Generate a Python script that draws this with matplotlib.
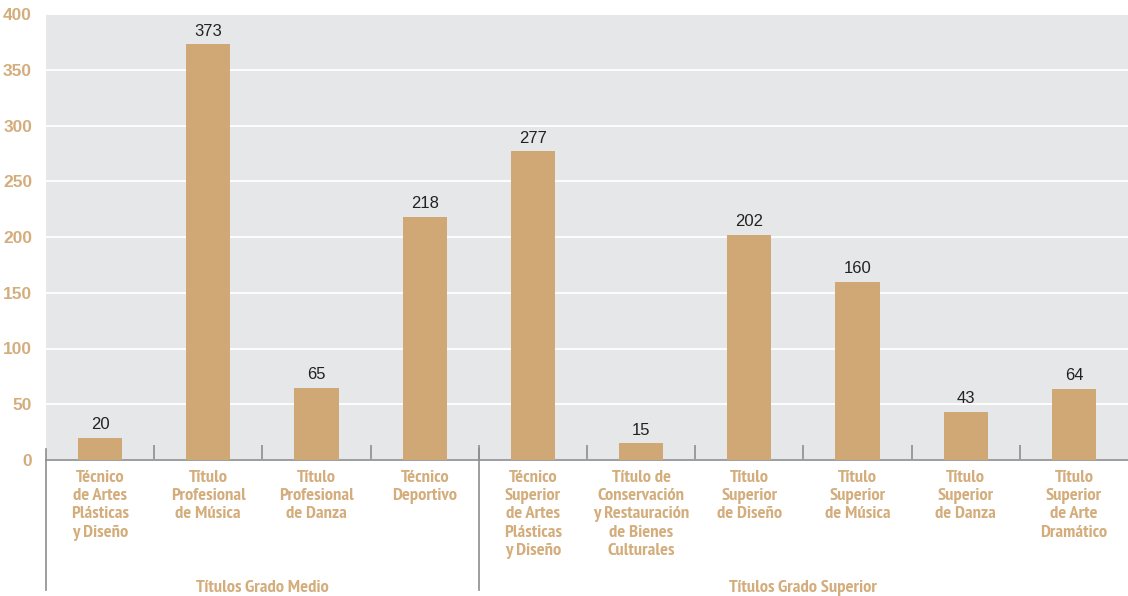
import numpy as np
import matplotlib.pyplot as plt
from matplotlib import font_manager

# pick a narrow bold face if the sandbox has one
bold_narrow = [f.name for f in font_manager.fontManager.ttflist
               if 'Narrow' in f.name and f.weight in (700, 'bold')]
head_font = bold_narrow[0] if bold_narrow else 'Liberation Sans'
plt.rcParams['font.family'] = ['Liberation Sans', 'DejaVu Sans']

# data
categories = ['Técnico\nde Artes\nPlásticas\ny Diseño',
              'Título\nProfesional\nde Música',
              'Título\nProfesional\nde Danza',
              'Técnico\nDeportivo',
              'Técnico\nSuperior\nde Artes\nPlásticas\ny Diseño',
              'Título de\nConservación\ny Restauración\nde Bienes\nCulturales',
              'Título\nSuperior\nde Diseño',
              'Título\nSuperior\nde Música',
              'Título\nSuperior\nde Danza',
              'Título\nSuperior\nde Arte\nDramático']
values = [20, 373, 65, 218, 277, 15, 202, 160, 43, 64]
groups = ['Títulos Grado Medio', 'Títulos Grado Superior']
group_sizes = [4, 6]

tan = '#cfa876'
label_col = '#d4ad7c'
bg = '#e6e7e9'
line_col = '#8c8d8f'

fig = plt.figure(figsize=(11.28, 5.96), dpi=100)
ax = fig.add_axes([46 / 1128, 1 - 460 / 596, 1 - 46 / 1128, 446 / 596])
ax.set_facecolor(bg)

x = np.arange(len(values))
ax.bar(x, values, width=0.41, color=tan, zorder=3)
for xi, v in zip(x, values):
    ax.text(xi, v + 5, str(v), ha='center', va='bottom', fontsize=12,
            color='#222222', zorder=4)

ax.set_xlim(-0.5, len(values) - 0.5)
ax.set_ylim(0, 400)
ax.set_yticks(np.arange(0, 401, 50))
ax.yaxis.grid(True, color='white', linewidth=1.3, zorder=0)
ax.set_axisbelow(True)
for s in ['top', 'right', 'left']:
    ax.spines[s].set_visible(False)
ax.spines['bottom'].set_color(line_col)
ax.spines['bottom'].set_linewidth(1.2)

ax.tick_params(axis='y', length=0, pad=10, labelsize=12.5, labelcolor=label_col)
for t in ax.get_yticklabels():
    t.set_fontweight('bold')

# boundary ticks
ax.set_xticks(x[:-1] + 0.5)
ax.set_xticklabels([])
ax.tick_params(axis='x', direction='in', length=11, color=line_col, width=1.2)

# category labels
for xi, c in zip(x, categories):
    ax.text(xi, -9, c, ha='center', va='top', fontsize=13.3, fontweight='bold',
            color=label_col, linespacing=1.18, family=[head_font, 'DejaVu Sans'])

# group separators and labels
start = 0
bounds = [-0.5]
for g, n in zip(groups, group_sizes):
    ax.text(start + (n - 1) / 2, -114.5, g, ha='center', va='center', fontsize=13.3,
            fontweight='bold', color=label_col, family=[head_font, 'DejaVu Sans'])
    start += n
    bounds.append(start - 0.5)
for b in bounds[:-1]:
    ax.plot([b, b], [10, -117], color=line_col, linewidth=1.2, clip_on=False, zorder=5)

fig.savefig('out.png', dpi=100)
